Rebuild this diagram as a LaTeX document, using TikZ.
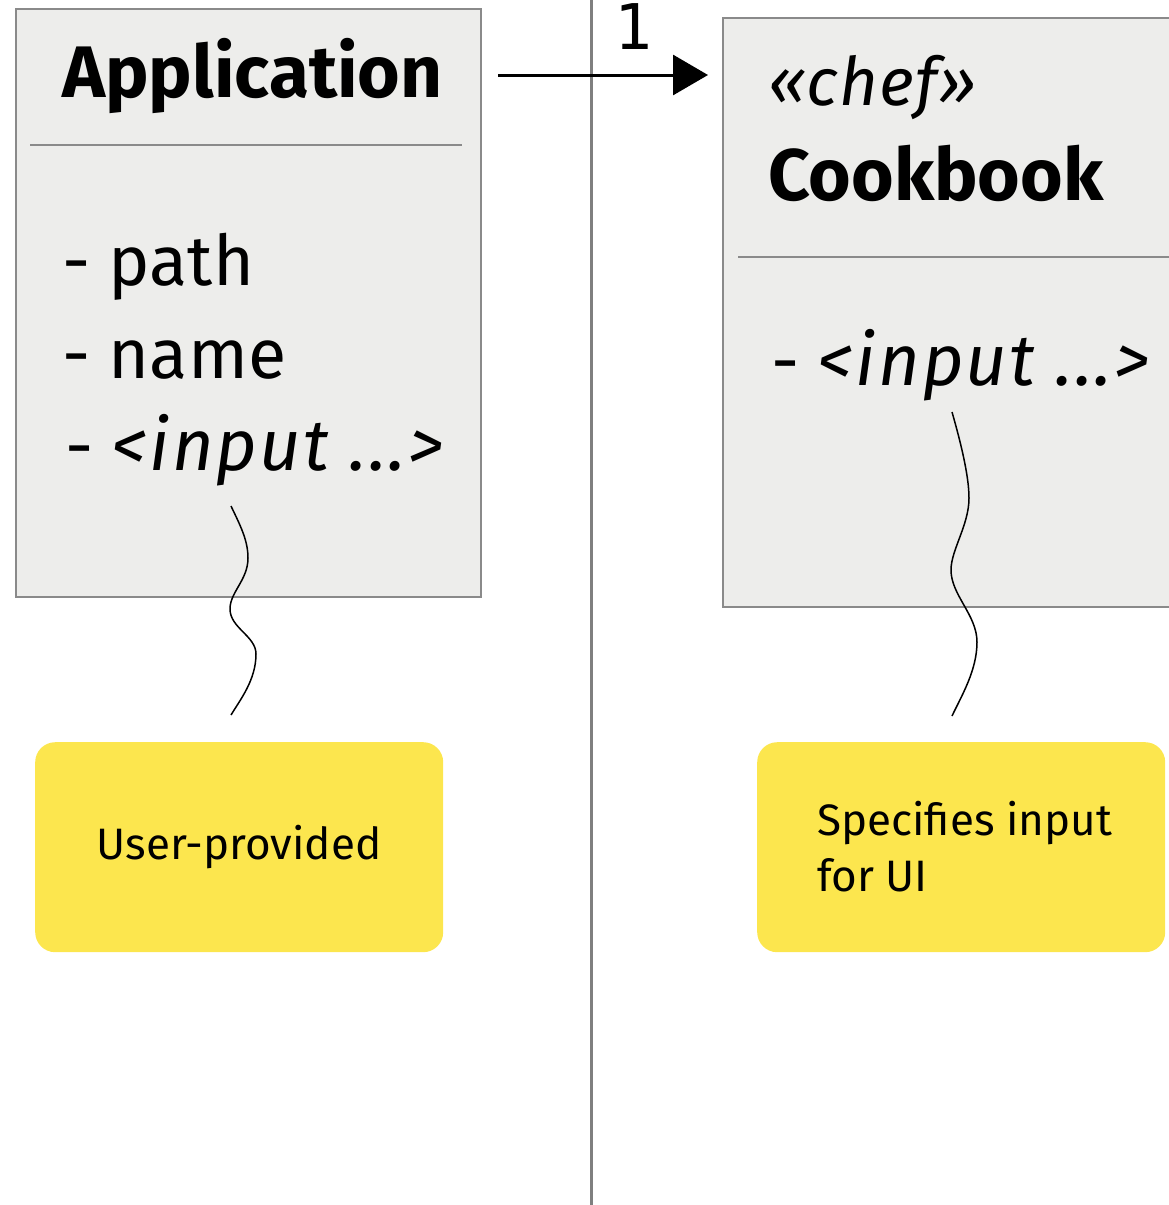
\documentclass[tikz,border=0pt]{standalone}
\usepackage{fontspec}
\setmainfont{Fira Sans}
\newfontfamily\monofnt{DejaVu Sans Mono}
\usetikzlibrary{arrows.meta,calc}
\definecolor{boxfill}{HTML}{EDEDEB}
\definecolor{boxline}{HTML}{8A8A8A}
\definecolor{noteyellow}{HTML}{FCE64E}
\definecolor{divline}{HTML}{7F7F7F}
\newcommand{\wideital}[1]{{\itshape\addfontfeatures{LetterSpace=3}\fontsize{72}{80}\selectfont #1}}
\tikzset{
  classbox/.style={draw=boxline, fill=boxfill, line width=2pt, inner sep=0pt, anchor=north west},
  sepline/.style={draw=boxline, line width=2pt},
  note/.style={fill=noteyellow, rounded corners=20pt, inner sep=0pt, anchor=north west,
               minimum width=408pt, minimum height=210pt},
  titletxt/.style={anchor=base west, inner sep=0pt, font=\fontsize{73}{88}\selectfont\bfseries},
  itemtxt/.style={anchor=base west, inner sep=0pt, font=\fontsize{70}{80}\selectfont},
  stereotxt/.style={anchor=base west, inner sep=0pt, font=\fontsize{67}{76}\selectfont\itshape\addfontfeatures{LetterSpace=2}},
  notetxt/.style={inner sep=0pt, font=\fontsize{44}{56}\selectfont},
  multtxt/.style={anchor=base west, inner sep=0pt, font=\fontsize{63}{66}\selectfont\monofnt},
  assoc/.style={line width=3pt, -{Triangle[length=35pt,width=40pt]}},
  divider/.style={draw=divline, line width=3pt},
  squiggle/.style={line width=1.5pt, black}
}
\begin{document}
\begin{tikzpicture}[x=1pt,y=-1pt]
\useasboundingbox (0,0) rectangle (1169,1205);
\clip (0,0) rectangle (1169,1205);

% divider
\coordinate (vtop) at (591,0);
\coordinate (vbot) at (591,1205);
\draw[divider] (vtop) -- (vbot);

% class boxes
\node[classbox, minimum width=465pt, minimum height=588pt] (app) at (15,8) {};
\node[classbox, minimum width=480pt, minimum height=589pt] (cook) at (722,17) {};

\coordinate (asepL) at (30,145);
\coordinate (asepR) at (462,145);
\draw[sepline] (asepL) -- (asepR);
\coordinate (csepL) at (738,257);
\coordinate (csepR) at (1180,257);
\draw[sepline] (csepL) -- (csepR);

\node[titletxt] (appname) at (62,97) {Application};
\node[itemtxt] (apath) at (62,285) {- path};
\node[itemtxt] (aname) at (62,378) {- name};
\node[itemtxt] (ainput) at (65,470) {- \wideital{<input ...>}};

\node[stereotxt] (chef) at (768,105) {«chef»};
\node[titletxt] (cookname) at (768,200) {Cookbook};
\node[itemtxt] (cinput) at (771,385) {- \wideital{<input ...>}};

% association
\coordinate (astart) at (498,75);
\coordinate (aend) at (708,75);
\draw[assoc] (astart) -- (aend);
\node[multtxt] (mult) at (614,49) {1};

% notes
\node[note] (note1) at (35,742) {};
\node[notetxt] (note1txt) at (note1.center) {User-provided};
\node[note] (note2) at (757,742) {};
\node[notetxt, anchor=base west, align=left] (note2txt) at (817,891) {Specifies input\\for UI};

% squiggles
\coordinate (s1a) at (231,506);
\coordinate (s1e) at (231,715);
\draw[squiggle] (s1a) .. controls (240,525) and (248,540) .. (248,558)
  .. controls (248,580) and (230,592) .. (230,609)
  .. controls (230,628) and (256,636) .. (256,654)
  .. controls (256,680) and (240,700) .. (s1e);
\coordinate (s2a) at (952,412);
\coordinate (s2e) at (952,716);
\draw[squiggle] (s2a) .. controls (960,440) and (969,475) .. (969,498)
  .. controls (969,525) and (951,550) .. (951,570)
  .. controls (951,595) and (977,615) .. (977,642)
  .. controls (977,670) and (962,695) .. (s2e);
\end{tikzpicture}
\end{document}
